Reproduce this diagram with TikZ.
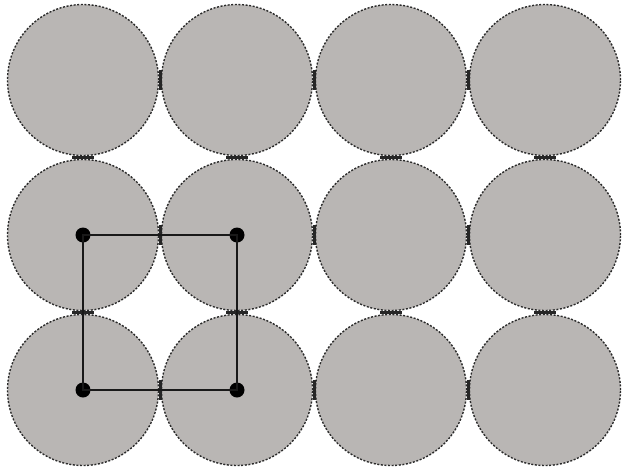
\documentclass[tikz,border=0pt]{standalone}
\usepackage{tikz}
\usetikzlibrary{calc}
\usepackage{xcolor}
\definecolor{ballgray}{HTML}{B9B6B4}
\definecolor{rimgray}{HTML}{2A2A2A}
\tikzset{
  ball/.style={
    circle, draw=rimgray, fill=ballgray, line width=1.4pt,
    dash pattern=on 2pt off 1.6pt, minimum size=151pt,
    inner sep=0pt
  },
  site/.style={
    circle, fill=black, minimum size=15pt, inner sep=0pt
  },
  cell/.style={line width=2.6pt, black!90},
  touch/.style={line width=3pt, black!85, solid}
}

\begin{document}
\begin{tikzpicture}[x=1pt, y=-1pt]
  \useasboundingbox (0,0) rectangle (622,472);
  % circles of the square packing
  \foreach \i/\x in {1/83, 2/237, 3/391, 4/545}{%
    \foreach \j/\y in {1/80, 2/235, 3/390}{%
      \node[ball] (b\i\j) at (\x,\y) {};}}
  % contact marks where neighbours touch
  \foreach \i/\k in {1/2, 2/3, 3/4}{%
    \foreach \j in {1,2,3}{%
      \draw[touch] ($(b\i\j)!0.5!(b\k\j)+(0,-10)$) -- ++(0,20);}}
  \foreach \i in {1,2,3,4}{%
    \foreach \j/\k in {1/2, 2/3}{%
      \draw[touch] ($(b\i\j)!0.5!(b\i\k)+(-11,0)$) -- ++(22,0);}}
  % unit cell
  \node[site] (s1) at (b12) {};
  \node[site] (s2) at (b22) {};
  \node[site] (s3) at (b23) {};
  \node[site] (s4) at (b13) {};
  \draw[cell] (s1.center) -- (s2.center) -- (s3.center)
    -- (s4.center) -- cycle;
\end{tikzpicture}
\end{document}
